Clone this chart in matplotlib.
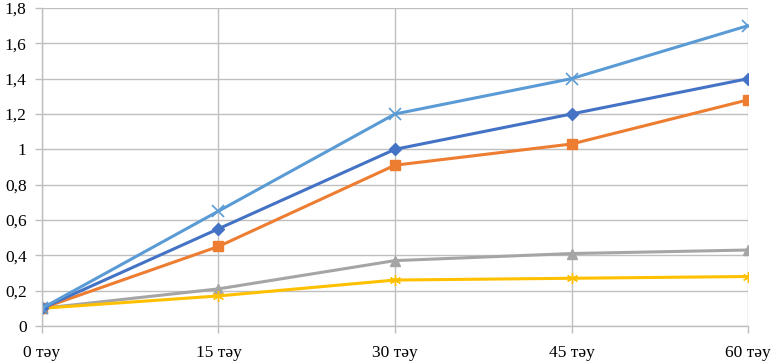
import matplotlib.pyplot as plt
from matplotlib.font_manager import FontProperties

# --- data ---
minutes = [0, 15, 30, 45, 60]
labels = ["0 тәу", "15 тәу", "30 тәу", "45 тәу", "60 тәу"]

s_light_blue = [0.10, 0.65, 1.20, 1.40, 1.70]
s_dark_blue = [0.10, 0.55, 1.00, 1.20, 1.40]
s_orange = [0.10, 0.45, 0.91, 1.03, 1.28]
s_gray = [0.10, 0.21, 0.37, 0.41, 0.43]
s_yellow = [0.10, 0.17, 0.26, 0.27, 0.28]

tick_font = FontProperties(family="Liberation Serif", size=12.5)

fig = plt.figure(figsize=(7.76, 3.63), dpi=100)
ax = fig.add_axes([0.054, 0.102, 0.910, 0.876])

grid_c = "#BFBFBF"
ax.set_axisbelow(True)
ax.grid(True, color=grid_c, linewidth=1.0)

lw = 2.2
ax.plot(minutes, s_gray, color="#A5A5A5", lw=lw, marker="^", ms=7)
ax.plot(minutes, s_yellow, color="#FFC000", lw=lw, marker=(6, 2, 0), ms=8,
        mew=1.0)
ax.plot(minutes, s_orange, color="#ED7D31", lw=lw, marker="s", ms=7)
ax.plot(minutes, s_dark_blue, color="#4472C4", lw=lw, marker="D", ms=6)
ax.plot(minutes, s_light_blue, color="#5B9BD5", lw=lw, marker="x", ms=8,
        mew=1.2)

ax.set_xlim(0, 60)
ax.set_ylim(0, 1.8)

for sp in ["top", "right"]:
    ax.spines[sp].set_visible(False)
for sp in ["left", "bottom"]:
    ax.spines[sp].set_color(grid_c)
    ax.spines[sp].set_linewidth(1.0)

ax.tick_params(axis="both", colors=grid_c, labelcolor="black",
               length=5, width=1.0)
ax.tick_params(axis="x", pad=9)
ax.tick_params(axis="y", pad=6)

yt = [i * 0.2 for i in range(10)]
ax.set_xticks(minutes)
ax.set_xticklabels(labels, fontproperties=tick_font)
ax.set_yticks(yt)
ax.set_yticklabels([("%g" % round(v, 1)).replace(".", ",") for v in yt],
                   fontproperties=tick_font)

fig.savefig("out.png", dpi=100)
